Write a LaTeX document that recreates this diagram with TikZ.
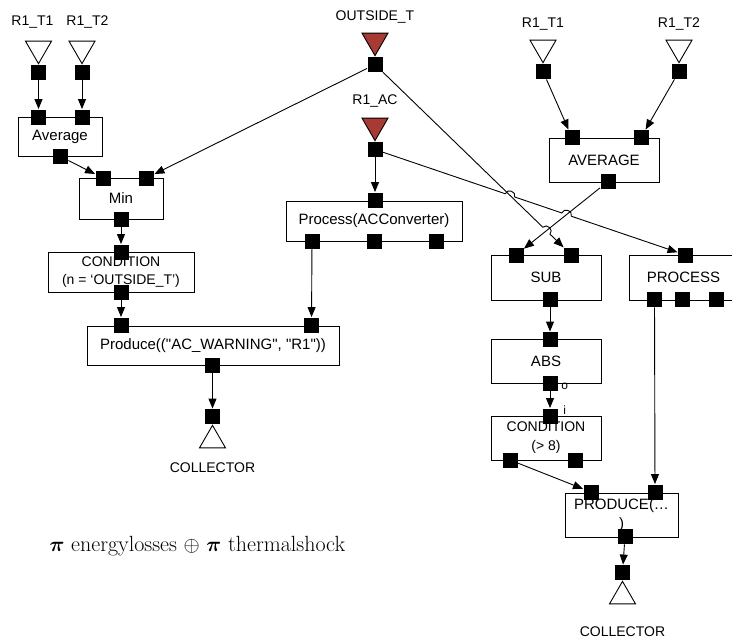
\documentclass[tikz,border=0pt]{standalone}
\usepackage{amsmath}
\usepackage{fontspec}
\setsansfont{Liberation Sans}
\usetikzlibrary{arrows.meta,shapes.geometric,positioning,calc,intersections}
\definecolor{srcred}{RGB}{168,58,52}

\begin{document}
\begin{tikzpicture}[x=1pt,y=-1pt,>={Triangle[length=10pt,width=8pt]},line width=0.9pt,
box/.style={draw,fill=white,inner sep=0pt,align=center,font=\sffamily\fontsize{15}{19}\selectfont},
port/.style={fill=black,inner sep=0pt,minimum size=15pt},
src/.style={draw,fill=white,regular polygon,regular polygon sides=3,shape border rotate=180,
  minimum size=30pt,inner sep=0pt,anchor=corner 1},
sink/.style={draw,fill=white,regular polygon,regular polygon sides=3,
  minimum size=30pt,inner sep=0pt,anchor=corner 1},
lbl/.style={inner sep=0pt,font=\sffamily\fontsize{14}{16}\selectfont},
tag/.style={inner sep=0pt,font=\sffamily\fontsize{12}{14}\selectfont}]
\useasboundingbox (0,0) rectangle (732,641);

% operator boxes
\node[box,minimum width=84pt,minimum height=39pt] (avgl) at (60,136.5) {Average};
\node[box,minimum width=84pt,minimum height=41pt] (minl) at (121,198.5) {Min};
\node[box,minimum width=146pt,minimum height=40pt,font=\sffamily\fontsize{14}{18}\selectfont]
  (condl) at (121,272) {CONDITION\\(n = ‘OUTSIDE\_T’)};
\node[box,minimum width=252pt,minimum height=39pt] (prodl) at (213,345.5)
  {Produce((\textquotedbl AC\_WARNING\textquotedbl, \textquotedbl R1\textquotedbl))};
\node[box,minimum width=176pt,minimum height=40pt] (proc) at (374,221) {Process(ACConverter)};
\node[box,minimum width=110pt,minimum height=44pt] (avgr) at (604,160) {AVERAGE};
\node[box,minimum width=110pt,minimum height=45pt] (sub) at (546,277.5) {SUB};
\node[box,minimum width=110pt,minimum height=44pt] (abs) at (546,361) {ABS};
\node[box,minimum width=110pt,minimum height=44pt,font=\sffamily\fontsize{14}{19}\selectfont]
  (condr) at (546,438) {CONDITION\\(> 8)};
\node[box,minimum width=109pt,minimum height=45pt] (procr) at (683.5,277.5) {PROCESS};
\node[box,minimum width=113pt,minimum height=44pt] (prodr) at (621.5,515) {PRODUCE(…\\)};

% ports
\node[port] (lt1p) at (38.5,72.5) {};
\node[port] (lt2p) at (82,72.5) {};
\node[port] (avgli1) at (38.5,117) {};
\node[port] (avgli2) at (82,117) {};
\node[port] (avglo) at (60.5,156.5) {};
\node[port] (minli1) at (103,178) {};
\node[port] (minli2) at (146.5,178) {};
\node[port] (minlo) at (121,219.5) {};
\node[port] (condli) at (121,252) {};
\node[port] (condlo) at (121,292) {};
\node[port] (prodli1) at (121,325) {};
\node[port] (prodli2) at (311.5,325) {};
\node[port] (prodlo) at (212.5,365.5) {};
\node[port] (coll) at (212.5,416.5) {};
\node[port] (otp) at (375,64.5) {};
\node[port] (acp) at (375,149.5) {};
\node[port] (proci) at (375,200) {};
\node[port] (proco1) at (312,241) {};
\node[port] (proco2) at (374,241) {};
\node[port] (proco3) at (436,241) {};
\node[port] (rt1p) at (543,71.5) {};
\node[port] (rt2p) at (679,71.5) {};
\node[port] (avgri1) at (572,137.5) {};
\node[port] (avgri2) at (641,137.5) {};
\node[port] (avgro) at (608,181.5) {};
\node[port] (subi1) at (516,255) {};
\node[port] (subi2) at (571.5,255) {};
\node[port] (subo) at (550,299.5) {};
\node[port] (absi) at (550,339.5) {};
\node[port] (abso) at (550,383.5) {};
\node[port] (condri) at (550,416) {};
\node[port] (condro1) at (510,460) {};
\node[port] (condro2) at (575,460) {};
\node[port] (procri) at (685.5,255) {};
\node[port] (procro1) at (654.5,299.5) {};
\node[port] (procro2) at (682.5,299.5) {};
\node[port] (procro3) at (716.5,299.5) {};
\node[port] (prodri1) at (591,492) {};
\node[port] (prodri2) at (655,492) {};
\node[port] (prodro) at (625,536.5) {};
\node[port] (colr) at (622.5,572.5) {};

% streams in and out
\node[src] (lt1) at (lt1p.north) {};
\node[src] (lt2) at (lt2p.north) {};
\node[src,fill=srcred] (ot) at (otp.north) {};
\node[src,fill=srcred] (ac) at (acp.north) {};
\node[src] (rt1) at (rt1p.north) {};
\node[src] (rt2) at (rt2p.north) {};
\node[sink] (coltri) at (coll.south) {};
\node[sink] (colrtri) at (colr.south) {};
\node[lbl] (lt1l) at (32.5,22) {R1\_T1};
\node[lbl] (lt2l) at (87.5,22) {R1\_T2};
\node[lbl,above=9pt of ot] (otl) {OUTSIDE\_T};
\node[lbl,above=10pt of ac] (acl) {R1\_AC};
\node[lbl,above=9pt of rt1] (rt1l) {R1\_T1};
\node[lbl,above=9pt of rt2] (rt2l) {R1\_T2};
\node[lbl,below=14pt of coltri] (colll) {COLLECTOR};
\node[lbl,below=22pt of colrtri] (colrl) {COLLECTOR};
\node[tag,anchor=west] (otag) at (561,386) {o};
\node[tag,anchor=west] (itag) at (563,410) {i};

\node[anchor=east,font=\fontsize{22}{26}\selectfont] (expr) at (349,546)
  {$\boldsymbol{\pi}$ energylosses $\oplus$ $\boldsymbol{\pi}$ thermalshock};

\path[->] (lt1p) edge (avgli1)
  (lt2p) edge (avgli2)
  (avglo) edge (minli1)
  (otp) edge (minli2)
  (minlo) edge (condli)
  (condlo) edge (prodli1)
  (proco1) edge (prodli2)
  (prodlo) edge (coll)
  (acp) edge (proci)
  (rt1p) edge (avgri1)
  (rt2p) edge (avgri2)
  (avgro) edge (subi1)
  (subo) edge (absi)
  (abso) edge (condri)
  (condro1) edge (prodri1)
  (procro1) edge (prodri2)
  (prodro) edge (colr);

% crossing lines hop over each other
\path[name path=la] (otp) -- (subi2);
\path[name path=lb] (acp) -- (procri);
\path[name path=lc] (avgro) -- (subi1);
\path[name intersections={of=la and lb,by=xab}];
\path[name intersections={of=lb and lc,by=xbc}];
\path[name intersections={of=la and lc,by=xac}];
\draw[->] (acp) -- ($(xab)!5pt!(acp)$) to[bend left=90,looseness=1.5] ($(xab)!5pt!(procri)$)
  -- ($(xbc)!5pt!(acp)$) to[bend left=90,looseness=1.5] ($(xbc)!5pt!(procri)$) -- (procri);
\draw[->] (otp) -- ($(xac)!5pt!(otp)$) to[bend left=90,looseness=1.5] ($(xac)!5pt!(subi2)$) -- (subi2);
\end{tikzpicture}
\end{document}
